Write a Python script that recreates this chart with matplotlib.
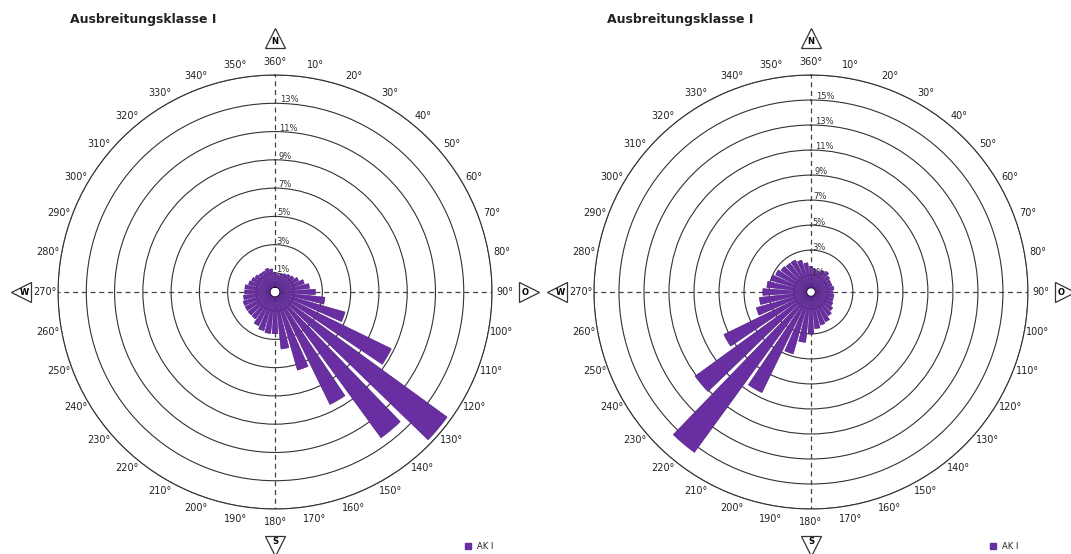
import numpy as np
import matplotlib.pyplot as plt

# wind directions (deg) and frequency (%) per sector
directions = np.arange(0, 360, 10)

freq_left = [1.0, 0.9, 1.0, 1.1, 1.2, 1.3, 1.5, 1.8, 2.1, 2.5,
             3.2, 4.8, 8.8, 14.7, 12.4, 8.5, 5.4, 3.7, 2.6, 2.6,
             2.5, 2.3, 2.0, 2.0, 2.0, 2.0, 1.9, 1.8, 1.8, 1.6,
             1.5, 1.4, 1.3, 1.3, 1.4, 1.3]

freq_right = [1.7, 1.5, 1.4, 1.6, 1.7, 1.5, 1.4, 1.4, 1.5, 1.4,
              1.5, 1.5, 1.6, 1.8, 2.0, 2.3, 2.4, 2.6, 3.0, 3.7,
              4.8, 8.6, 15.5, 11.1, 7.4, 4.2, 3.8, 3.5, 3.2, 3.0,
              2.8, 2.6, 2.5, 2.5, 2.3, 2.0]

rings_left = [1, 3, 5, 7, 9, 11, 13]
rings_right = [1, 3, 5, 7, 9, 11, 13, 15, 17]
rmax_left = 15
rmax_right = 17

angle_labels = ['%d°' % a for a in range(0, 360, 10)]
angle_labels[0] = '360°'

title = 'Ausbreitungsklasse I'
legend_label = 'AK I'
cardinals = [('N', 0), ('O', 90), ('S', 180), ('W', 270)]

bar_color = '#6a2ea3'
edge_color = '#4a1a7a'

fig = plt.figure(figsize=(10.71, 5.54), dpi=100)


def windrose(rect, freq, rings, rmax, title_x):
    ax = fig.add_axes(rect, projection='polar')
    ax.set_theta_zero_location('N')
    ax.set_theta_direction(-1)
    ax.set_ylim(0, rmax)
    ax.set_rorigin(-0.35)

    ax.bar(np.radians(directions), freq, width=np.radians(8),
           color=bar_color, edgecolor=edge_color, linewidth=0.4, zorder=3)

    # rings, labels only up to the last one inside
    ax.set_yticks([r for r in rings if r < rmax] + [rmax])
    ax.set_yticklabels([])
    ax.yaxis.grid(True, color='#333333', linewidth=0.8, linestyle='-')
    ax.xaxis.grid(False)
    for r in rings:
        if r < rmax:
            ax.text(np.radians(1.5), r + 0.25, '%d%%' % r, fontsize=6,
                    ha='left', va='center', color='#333333', zorder=4)

    # dashed cross through the centre
    for a in (0, 90, 180, 270):
        ax.plot([np.radians(a)] * 2, [0, rmax], color='#444444',
                linewidth=0.9, dashes=(4, 3), zorder=2)

    ax.set_xticks(np.radians(directions))
    ax.set_xticklabels(angle_labels, fontsize=7, color='#222222')
    ax.tick_params(axis='x', pad=-1)
    ax.spines['polar'].set_color('#333333')
    ax.spines['polar'].set_linewidth(0.8)

    # N/O/S/W direction markers
    d = 0.585
    marks = {0: ('^', 0.5, 0.5 + d), 90: ('>', 0.5 + d, 0.5),
             180: ('v', 0.5, 0.5 - d), 270: ('<', 0.5 - d, 0.5)}
    for letter, a in cardinals:
        m, x, y = marks[a]
        ax.plot(x, y, marker=m, markersize=14, markerfacecolor='white',
                markeredgecolor='#333333', markeredgewidth=0.9,
                transform=ax.transAxes, clip_on=False)
        dx = {90: -0.008, 270: 0.008}.get(a, 0)
        dy = {0: -0.008, 180: 0.01}.get(a, 0)
        ax.text(x + dx, y + dy, letter, transform=ax.transAxes, fontsize=6,
                fontweight='bold', ha='center', va='center')

    fig.text(title_x, 0.965, title, fontsize=9, fontweight='bold',
             color='#222222', ha='left', va='center')
    return ax


ax1 = windrose([0.0542, 0.0812, 0.4052, 0.7834], freq_left, rings_left,
               rmax_left, 0.065)
ax2 = windrose([0.5546, 0.0812, 0.4052, 0.7834], freq_right, rings_right,
               rmax_right, 0.567)

# small legend boxes bottom right of each rose
for lx in (0.434, 0.9245):
    fig.patches.append(plt.Rectangle((lx, 0.0085), 0.0055, 0.011,
                                     transform=fig.transFigure,
                                     color=bar_color, figure=fig))
    fig.text(lx + 0.011, 0.0135, legend_label, fontsize=6,
             ha='left', va='center', color='#222222')

plt.savefig('out.png', dpi=100)
